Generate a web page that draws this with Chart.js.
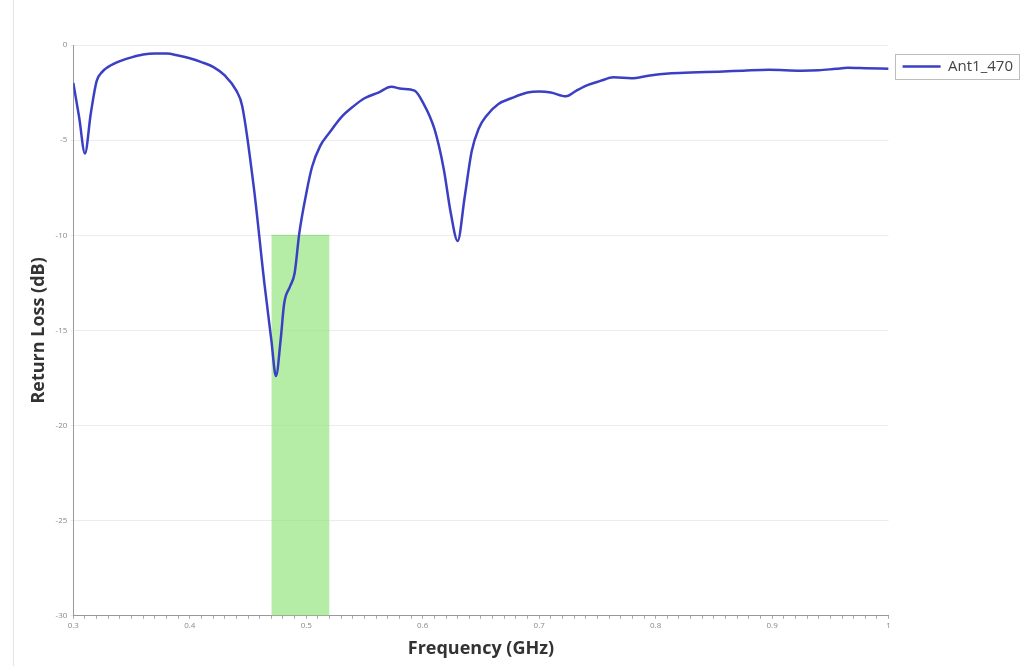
<!DOCTYPE html>
<html>
<head>
    <title>Return Loss</title>
    <script src="https://cdn.jsdelivr.net/npm/chart.js"></script>
    <style>
        body { margin: 0; background: #fff; }
        #wrap { width: 1034px; height: 666px; position: relative; }
        #edge { position: absolute; left: 13px; top: 0; width: 1px; height: 666px; background: #e4e4e4; }
    </style>
</head>
<body>
    <div id="wrap">
        <div id="edge"></div>
        <canvas id="rlChart"></canvas>
    </div>
    <script>
        // frequency (GHz) and return loss (dB)
        const freqs = [0.300, 0.305, 0.310, 0.315, 0.320, 0.325, 0.330, 0.340, 0.350, 0.360,
            0.370, 0.380, 0.390, 0.400, 0.410, 0.420, 0.430, 0.440, 0.445, 0.455,
            0.464, 0.470, 0.474, 0.478, 0.481, 0.486, 0.490, 0.494, 0.500, 0.505,
            0.512, 0.520, 0.530, 0.541, 0.550, 0.562, 0.573, 0.582, 0.593, 0.600,
            0.610, 0.618, 0.624, 0.630, 0.636, 0.642, 0.648, 0.655, 0.665, 0.676,
            0.690, 0.700, 0.710, 0.723, 0.732, 0.742, 0.752, 0.764, 0.779, 0.795,
            0.811, 0.830, 0.854, 0.875, 0.897, 0.925, 0.940, 0.955, 0.965, 0.980, 1.000];
        const returnLoss = [-2.0, -3.8, -5.7, -3.6, -1.9, -1.4, -1.15, -0.85, -0.65, -0.5,
            -0.45, -0.45, -0.55, -0.7, -0.9, -1.15, -1.6, -2.4, -3.2, -7.5,
            -12.5, -15.5, -17.4, -15.5, -13.6, -12.7, -12.0, -9.9, -7.8, -6.4,
            -5.3, -4.6, -3.8, -3.2, -2.8, -2.5, -2.2, -2.3, -2.4, -3.0,
            -4.4, -6.5, -8.8, -10.3, -8.0, -5.6, -4.4, -3.7, -3.1, -2.8,
            -2.5, -2.45, -2.5, -2.7, -2.4, -2.1, -1.9, -1.7, -1.75, -1.6,
            -1.5, -1.45, -1.4, -1.35, -1.3, -1.35, -1.33, -1.25, -1.2, -1.22, -1.25];

        // highlighted band
        const bandFreqs = [0.47, 0.52];
        const bandTop = -10;
        const bandBottom = -30;

        const seriesName = 'Ant1_470';

        const legendBorder = {
            id: 'legendBorder',
            afterDraw(chart) {
                const lg = chart.legend;
                if (!lg || !lg.legendHitBoxes.length) return;
                const hb = lg.legendHitBoxes[0];
                const ctx = chart.ctx;
                ctx.save();
                ctx.strokeStyle = '#bdbdbd';
                ctx.lineWidth = 1;
                ctx.strokeRect(Math.round(hb.left - 8) + 0.5, Math.round(hb.top - 5) + 0.5, Math.round(hb.width + 14), Math.round(hb.height + 10));
                ctx.restore();
            }
        };

        const ctx = document.getElementById('rlChart').getContext('2d');
        new Chart(ctx, {
            type: 'line',
            data: {
                datasets: [{
                    label: seriesName,
                    data: freqs.map((f, i) => ({ x: f, y: returnLoss[i] })),
                    borderColor: '#3b3fc4',
                    backgroundColor: '#3b3fc4',
                    borderWidth: 2.5,
                    pointRadius: 0,
                    cubicInterpolationMode: 'monotone',
                    order: 1
                }, {
                    label: 'band',
                    data: bandFreqs.map(f => ({ x: f, y: bandTop })),
                    borderColor: 'rgba(120,200,100,0.6)',
                    borderWidth: 1,
                    backgroundColor: 'rgba(150,230,130,0.7)',
                    fill: { value: bandBottom },
                    pointRadius: 0,
                    order: 2
                }]
            },
            options: {
                responsive: true,
                maintainAspectRatio: false,
                animation: false,
                layout: { padding: { top: 45, left: 24, right: 11, bottom: 2 } },
                plugins: {
                    legend: {
                        position: 'right',
                        align: 'start',
                        labels: {
                            filter: item => item.text === seriesName,
                            usePointStyle: true,
                            pointStyle: 'line',
                            pointStyleWidth: 38,
                            boxWidth: 38,
                            padding: 14,
                            color: '#444',
                            font: { family: 'Open Sans', size: 15 }
                        }
                    },
                    tooltip: { enabled: false }
                },
                scales: {
                    x: {
                        type: 'linear',
                        min: 0.3,
                        max: 1.0,
                        title: {
                            display: true,
                            text: 'Frequency (GHz)',
                            color: '#333',
                            font: { family: 'Open Sans', size: 18, weight: 'bold' },
                            padding: { top: 6 }
                        },
                        ticks: {
                            stepSize: 0.01,
                            autoSkip: false,
                            maxTicksLimit: 100,
                            maxRotation: 0,
                            color: '#888',
                            font: { family: 'Open Sans', size: 8 },
                            padding: 2,
                            callback: v => {
                                const r = Math.round(v * 10);
                                return Math.abs(v * 10 - r) < 1e-6 ? String(r / 10) : '';
                            }
                        },
                        grid: {
                            drawOnChartArea: false,
                            color: '#aaa',
                            tickLength: 3
                        },
                        border: { color: '#999' }
                    },
                    y: {
                        min: -30,
                        max: 0,
                        title: {
                            display: true,
                            text: 'Return Loss (dB)',
                            color: '#333',
                            font: { family: 'Open Sans', size: 18, weight: 'bold' },
                            padding: { bottom: 3 }
                        },
                        ticks: {
                            stepSize: 5,
                            color: '#888',
                            font: { family: 'Open Sans', size: 8 },
                            padding: 3
                        },
                        grid: {
                            color: '#ececec',
                            tickLength: 3
                        },
                        border: { color: '#999' }
                    }
                }
            },
            plugins: [legendBorder]
        });
    </script>
</body>
</html>
